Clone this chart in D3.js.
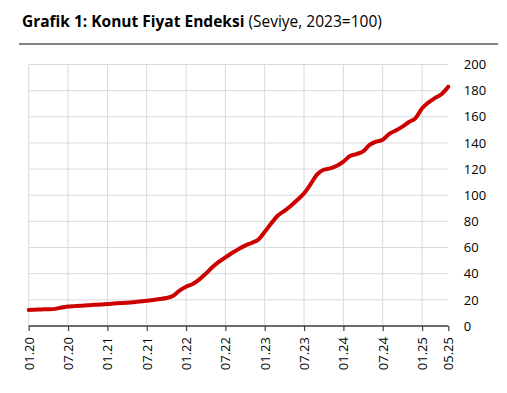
<!DOCTYPE html>
<html><head><meta charset="utf-8">
<script src="https://cdn.jsdelivr.net/npm/d3@7"></script>
<style>body{margin:0;background:#fff}svg{display:block}</style>
</head><body>
<svg id="c" width="507" height="393"></svg>
<script>
const title = "Grafik 1: Konut Fiyat Endeksi";
const subtitle = " (Seviye, 2023=100)";
const startYear = 2020, startMonth = 1;
const values = [
  12.3, 12.5, 12.7, 12.8, 13.1, 14.2, 14.9, 15.2, 15.5, 15.9, 16.2, 16.5,
  16.9, 17.2, 17.5, 17.8, 18.2, 18.7, 19.3, 19.9, 20.6, 21.4, 23.0, 27.0,
  30.0, 32.2, 35.5, 40.0, 45.0, 49.0, 52.5, 55.8, 58.8, 61.5, 63.5, 66.0,
  72.0, 78.5, 84.5, 88.0, 92.0, 96.5, 101.5, 108.5, 116.0, 119.5, 120.5, 122.5,
  125.7, 130.0, 131.5, 133.5, 138.5, 141.0, 142.5, 147.0, 149.5, 152.5, 156.0, 159.0,
  166.5, 171.0, 174.5, 177.5, 183.0
];
const xTickIdx = [0, 6, 12, 18, 24, 30, 36, 42, 48, 54, 60, 64];
const gridIdx = [0, 6, 12, 18, 24, 30, 36, 42, 48, 54, 60];
const yTicks = [0, 20, 40, 60, 80, 100, 120, 140, 160, 180, 200];

function label(i){
  const m = (startMonth - 1 + i) % 12 + 1;
  const y = startYear + Math.floor((startMonth - 1 + i) / 12);
  return String(m).padStart(2,"0") + "." + String(y % 100).padStart(2,"0");
}

const svg = d3.select("#c");
const font = "'Open Sans', sans-serif";
const L = 28.7, R = 448.3, T = 64.5, B = 326;
const x = d3.scaleLinear().domain([0, values.length - 1]).range([L, R]);
const y = d3.scaleLinear().domain([0, 200]).range([B, T]);

// title
const t = svg.append("text").attr("x", 22).attr("y", 27)
  .attr("font-family", font).attr("font-size", 15.5).attr("fill", "#000");
t.append("tspan").attr("font-weight", "bold").text(title);
t.append("tspan").attr("font-weight", "normal").text(subtitle);
svg.append("line").attr("x1", 19).attr("x2", 498).attr("y1", 44).attr("y2", 44)
  .attr("stroke", "#595959").attr("stroke-width", 1.5);

// grid
svg.append("g").selectAll("line").data(yTicks).join("line")
  .attr("x1", L).attr("x2", R).attr("y1", d => y(d)).attr("y2", d => y(d))
  .attr("stroke", "#d9d9d9").attr("stroke-width", 1);
svg.append("g").selectAll("line").data(gridIdx).join("line")
  .attr("x1", d => x(d)).attr("x2", d => x(d)).attr("y1", T).attr("y2", B)
  .attr("stroke", "#d9d9d9").attr("stroke-width", 1);

// y axis labels on right
const yAxis = d3.axisRight(y).tickValues(yTicks).tickSize(0).tickPadding(15.5).tickFormat(d3.format("d"));
const gy = svg.append("g").attr("transform", `translate(${R},0)`).call(yAxis);
gy.select(".domain").remove();
gy.selectAll("text").attr("font-family", font).attr("font-size", 13).attr("fill", "#000");

// x axis
const xAxis = d3.axisBottom(x).tickValues(xTickIdx).tickSize(5).tickFormat(label);
const gx = svg.append("g").attr("transform", `translate(0,${B})`).call(xAxis);
gx.select(".domain").attr("stroke", "#404040").attr("stroke-width", 1.5).attr("d", `M${L},0H${R}`);
gx.selectAll(".tick line").attr("stroke", "#404040").attr("stroke-width", 1.2);
gx.selectAll("text").attr("font-family", font).attr("font-size", 13).attr("fill", "#000")
  .attr("transform", "rotate(-90)").attr("text-anchor", "end")
  .attr("x", -11).attr("y", 0).attr("dy", "0.35em");

// line
const line = d3.line().x((d, i) => x(i)).y(d => y(d)).curve(d3.curveMonotoneX);
svg.append("path").datum(values).attr("d", line)
  .attr("fill", "none").attr("stroke", "#cc0000").attr("stroke-width", 4)
  .attr("stroke-linejoin", "round").attr("stroke-linecap", "round");
</script>
</body></html>
